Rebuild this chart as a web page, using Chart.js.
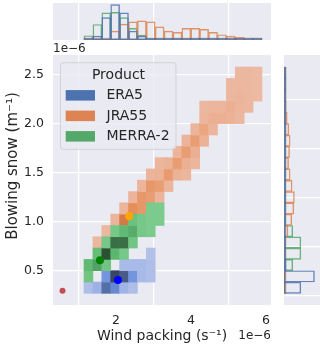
<!DOCTYPE html>
<html>
<head>
<meta charset="utf-8">
<script src="https://cdn.jsdelivr.net/npm/chart.js@4.4.1/dist/chart.umd.min.js"></script>
<style>
  body { margin: 0; background: #fff; }
  #wrap { position: relative; width: 320px; height: 350px; overflow: hidden; }
  canvas { position: absolute; }
</style>
</head>
<body>
<div id="wrap">
  <canvas id="main" width="320" height="350" style="left:0;top:0"></canvas>
  <canvas id="top" width="218" height="37" style="left:53px;top:3px"></canvas>
  <canvas id="right" width="36" height="250" style="left:284px;top:55px"></canvas>
</div>
<script>
const products = ['ERA5', 'JRA55', 'MERRA-2'];
const xTicks = [2, 4, 6];
const yTicks = [0.5, 1.0, 1.5, 2.0, 2.5];
const offsetText = '1e\u22126';
const xTitle = 'Wind packing (s\u207B\u00B9)';
const yTitle = 'Blowing snow (m\u207B\u00B9)';

// histogram bin edges (x in 1e-6 s-1, y in m-1)
const xEdges = [1.144, 1.382, 1.619, 1.857, 2.094, 2.332, 2.570, 2.807, 3.045, 3.282, 3.520,
                3.758, 3.995, 4.233, 4.470, 4.708, 4.946, 5.183, 5.421, 5.658, 5.896];
const yEdges = [0.273, 0.388, 0.504, 0.619, 0.735, 0.850, 0.965, 1.081, 1.196, 1.311, 1.427,
                1.542, 1.657, 1.773, 1.888, 2.004, 2.119, 2.234, 2.350, 2.465, 2.581];

// 2d histogram cells: [x bin, y bin, relative density]
const era5Cells = [
  [0,0,0.12],[1,0,0.22],[2,0,0.72],[3,0,0.55],[4,0,0.2],[5,0,0.12],
  [2,1,0.45],[3,1,1.0],[4,1,0.85],[5,1,0.45],[6,1,0.15],[7,1,0.12],
  [4,2,0.15],[5,2,0.15],[6,2,0.15],[7,2,0.12],
  [7,3,0.1]
];
const jra55Cells = [
  [1,4,0.05],[2,5,0.05],[3,6,0.08],[4,6,0.7],
  [4,7,0.08],[5,7,0.45],[6,7,0.35],
  [5,8,0.08],[6,8,0.35],[7,8,0.3],[8,8,0.08],
  [6,9,0.08],[7,9,0.35],[8,9,0.3],[9,9,0.08],
  [7,10,0.08],[8,10,0.1],[9,10,0.32],[10,10,0.1],[11,10,0.06],
  [8,11,0.06],[9,11,0.1],[10,11,0.3],[11,11,0.12],[12,11,0.06],
  [10,12,0.08],[11,12,0.3],[12,12,0.12],
  [11,13,0.08],[12,13,0.3],[13,13,0.1],
  [12,14,0.08],[13,14,0.22],[14,14,0.08],
  [13,15,0.08],[14,15,0.12],[15,15,0.12],[16,15,0.1],[17,15,0.05],
  [13,16,0.05],[14,16,0.08],[15,16,0.08],[16,16,0.12],[17,16,0.08],[18,16,0.05],
  [16,17,0.05],[17,17,0.08],[18,17,0.05],[19,17,0.03],
  [16,18,0.05],[17,18,0.05],[18,18,0.05],[19,18,0.03],
  [17,19,0.05],[18,19,0.05],[19,19,0.03]
];
const merra2Cells = [
  [0,1,0.3],
  [0,2,0.45],[1,2,0.6],[2,2,0.3],
  [1,3,0.4],[2,3,1.0],[3,3,0.5],[4,3,0.25],
  [2,4,0.25],[3,4,0.85],[4,4,0.85],[5,4,0.3],
  [3,5,0.25],[4,5,0.45],[5,5,0.55],[6,5,0.25],[7,5,0.2],
  [5,6,0.35],[6,6,0.25],[7,6,0.2],[8,6,0.2],
  [7,7,0.2],[8,7,0.2]
];

// marginal counts per x bin (top) and per y bin (right)
const era5X   = [3, 12, 68, 107, 82, 27, 12, 6, 2, 1, 1, 1, 0, 0, 0, 0, 0, 0, 0, 0];
const jra55X  = [0, 0, 6, 27, 48, 55, 58, 55, 40, 27, 23, 35, 35, 32, 23, 16, 12, 8, 5, 4];
const merra2X = [13, 47, 82, 84, 68, 35, 15, 4, 1, 0, 0, 0, 0, 0, 0, 0, 0, 0, 0, 0];
const era5Y   = [17.3, 31.3, 2.3, 0.5, 0, 0, 0, 0, 0, 0, 0, 0, 0, 0, 0, 0, 0, 0, 0, 0];
const jra55Y  = [0, 0.3, 0.3, 0.7, 1.7, 4, 8, 10, 10.7, 8.3, 6.3, 4.7, 5.7, 6.3, 5, 3.3, 2.3, 1, 1, 0.7];
const merra2Y = [0, 0, 9, 17.3, 17.3, 9, 1.7, 0.3, 0, 0, 0, 0, 0, 0, 0, 0, 0, 0, 0, 0];

// mean values: observation, ERA5, MERRA-2, JRA55
const pointX = [0.57, 2.05, 1.57, 2.35];
const pointY = [0.30, 0.41, 0.61, 1.06];
const pointColors = ['#c44e52', '#0000ff', '#008000', '#ffa500'];

const xRange = [0.316, 6.137];
const yRange = [0.154, 2.704];

const productColors = ['#4c72b0', '#dd8452', '#55a868'];
const ramps = [
  ['#c3cdeb', '#6a8fdd', '#39465f'],
  ['#edbca8', '#e5894f', '#b8643a'],
  ['#91d9a1', '#5bb66e', '#2c5135']
];
const FONT = 'DejaVu Sans';
const INK = '#262626';

function hex(c) { return [1, 3, 5].map(i => parseInt(c.slice(i, i + 2), 16)); }
function rampColor(stops, v) {
  const t = Math.min(Math.max(v, 0), 1) * 2;
  const i = t < 1 ? 0 : 1;
  const f = t - i;
  const a = hex(stops[i]), b = hex(stops[i + 1]);
  return 'rgb(' + a.map((x, k) => Math.round(x + (b[k] - x) * f)).join(',') + ')';
}
const mid = (e, i) => (e[i] + e[i + 1]) / 2;

const bgPlugin = {
  id: 'bg',
  beforeDraw(chart) {
    const a = chart.chartArea, ctx = chart.ctx;
    ctx.save();
    ctx.fillStyle = '#eaeaf2';
    ctx.fillRect(a.left, a.top, a.right - a.left, a.bottom - a.top);
    ctx.restore();
  }
};

const legendPlugin = {
  id: 'productLegend',
  afterDraw(chart) {
    const a = chart.chartArea, ctx = chart.ctx;
    const x0 = a.left + 7.5, y0 = a.top + 7.7;
    ctx.save();
    ctx.beginPath();
    ctx.roundRect(x0, y0, 115.5, 86.6, 3);
    ctx.fillStyle = 'rgba(234,234,242,0.8)';
    ctx.fill();
    ctx.strokeStyle = 'rgba(204,204,204,0.8)';
    ctx.lineWidth = 1;
    ctx.stroke();
    ctx.fillStyle = INK;
    ctx.font = '14px "' + FONT + '"';
    ctx.textBaseline = 'middle';
    ctx.textAlign = 'center';
    ctx.fillText('Product', x0 + 58, y0 + 12.5);
    ctx.textAlign = 'left';
    products.forEach((p, i) => {
      const cy = y0 + 32.6 + i * 20.5;
      ctx.fillStyle = productColors[i];
      ctx.fillRect(x0 + 5.2, cy - 5.2, 29.3, 10.5);
      ctx.fillStyle = INK;
      ctx.fillText(p, x0 + 46, cy + 0.5);
    });
    // offset labels of the shared x axis
    ctx.font = '12px "' + FONT + '"';
    ctx.fillText(offsetText, a.left, 48.5);
    ctx.textAlign = 'right';
    ctx.fillText(offsetText, a.right, 336);
    // y axis title
    ctx.font = '15px "' + FONT + '"';
    ctx.textAlign = 'center';
    ctx.translate(13, 166);
    ctx.rotate(-Math.PI / 2);
    ctx.fillText(yTitle, 0, 0);
    ctx.restore();
  }
};

function cellDataset(label, cells, k, order) {
  return {
    label,
    order,
    data: cells.map(([c, r, v]) => ({ x: mid(xEdges, c), y: [yEdges[r], yEdges[r + 1]], v })),
    backgroundColor: ctx => ctx.raw ? rampColor(ramps[k], ctx.raw.v) : productColors[k],
    borderWidth: 0,
    grouped: false,
    barPercentage: 1,
    categoryPercentage: 1
  };
}

const gridWhite = { color: '#ffffff', lineWidth: 1.2, drawTicks: false };

new Chart(document.getElementById('main'), {
  type: 'bar',
  data: {
    datasets: [
      {
        type: 'scatter',
        label: 'means',
        order: 0,
        data: pointX.map((x, i) => ({ x, y: pointY[i] })),
        pointBackgroundColor: pointColors,
        pointBorderWidth: 0,
        pointRadius: [3, 4, 4, 4]
      },
      cellDataset('MERRA-2', merra2Cells, 2, 1),
      cellDataset('JRA55', jra55Cells, 1, 2),
      cellDataset('ERA5', era5Cells, 0, 3)
    ]
  },
  options: {
    responsive: false,
    animation: false,
    layout: { padding: { top: 55, right: 49, left: 0, bottom: 0 } },
    plugins: { legend: { display: false }, tooltip: { enabled: false } },
    scales: {
      x: {
        type: 'linear',
        min: xRange[0], max: xRange[1],
        offset: false,
        afterBuildTicks: s => { s.ticks = xTicks.map(v => ({ value: v })); },
        afterFit: s => { s.height = 45; },
        grid: gridWhite,
        border: { display: false },
        ticks: { color: INK, font: { family: FONT, size: 12.5 }, padding: 8, callback: v => String(v) },
        title: { display: true, text: xTitle, color: INK,
                 font: { family: FONT, size: 14 }, padding: { top: 0, bottom: 5 } }
      },
      y: {
        type: 'linear',
        min: yRange[0], max: yRange[1],
        afterBuildTicks: s => { s.ticks = yTicks.map(v => ({ value: v })); },
        afterFit: s => { s.width = 53; },
        grid: gridWhite,
        border: { display: false },
        ticks: { color: INK, font: { family: FONT, size: 12.5 }, padding: 9, callback: v => v.toFixed(1) }
      }
    }
  },
  plugins: [bgPlugin, legendPlugin]
});

function margDataset(label, counts, edges, k, horizontal) {
  return {
    label,
    data: counts.map((n, i) => horizontal ? { y: mid(edges, i), x: n } : { x: mid(edges, i), y: n }),
    backgroundColor: 'rgba(0,0,0,0)',
    borderColor: productColors[k] + 'd9',
    borderWidth: 0.8,
    borderSkipped: false,
    minBarLength: 2,
    grouped: false,
    barPercentage: 1,
    categoryPercentage: 1
  };
}

const hiddenAxis = { display: false };

new Chart(document.getElementById('top'), {
  type: 'bar',
  data: {
    datasets: [
      margDataset('ERA5', era5X, xEdges, 0, false),
      margDataset('JRA55', jra55X, xEdges, 1, false),
      margDataset('MERRA-2', merra2X, xEdges, 2, false)
    ]
  },
  options: {
    responsive: false,
    animation: false,
    layout: { padding: 0 },
    plugins: { legend: { display: false }, tooltip: { enabled: false } },
    scales: {
      x: {
        type: 'linear', min: xRange[0], max: xRange[1], offset: false,
        afterBuildTicks: s => { s.ticks = xTicks.map(v => ({ value: v })); },
        afterFit: s => { s.height = 0; },
        ticks: { display: false },
        grid: gridWhite,
        border: { display: false }
      },
      y: Object.assign({ min: 0, max: 112 }, hiddenAxis)
    }
  },
  plugins: [bgPlugin]
});

new Chart(document.getElementById('right'), {
  type: 'bar',
  data: {
    datasets: [
      margDataset('ERA5', era5Y, yEdges, 0, true),
      margDataset('JRA55', jra55Y, yEdges, 1, true),
      margDataset('MERRA-2', merra2Y, yEdges, 2, true)
    ]
  },
  options: {
    indexAxis: 'y',
    responsive: false,
    animation: false,
    layout: { padding: 0 },
    plugins: { legend: { display: false }, tooltip: { enabled: false } },
    scales: {
      y: {
        type: 'linear', min: yRange[0], max: yRange[1], offset: false,
        afterBuildTicks: s => { s.ticks = yTicks.map(v => ({ value: v })); },
        afterFit: s => { s.width = 0; },
        ticks: { display: false },
        grid: gridWhite,
        border: { display: false }
      },
      x: Object.assign({ min: 0, max: 37 }, hiddenAxis)
    }
  },
  plugins: [bgPlugin]
});
</script>
</body>
</html>
